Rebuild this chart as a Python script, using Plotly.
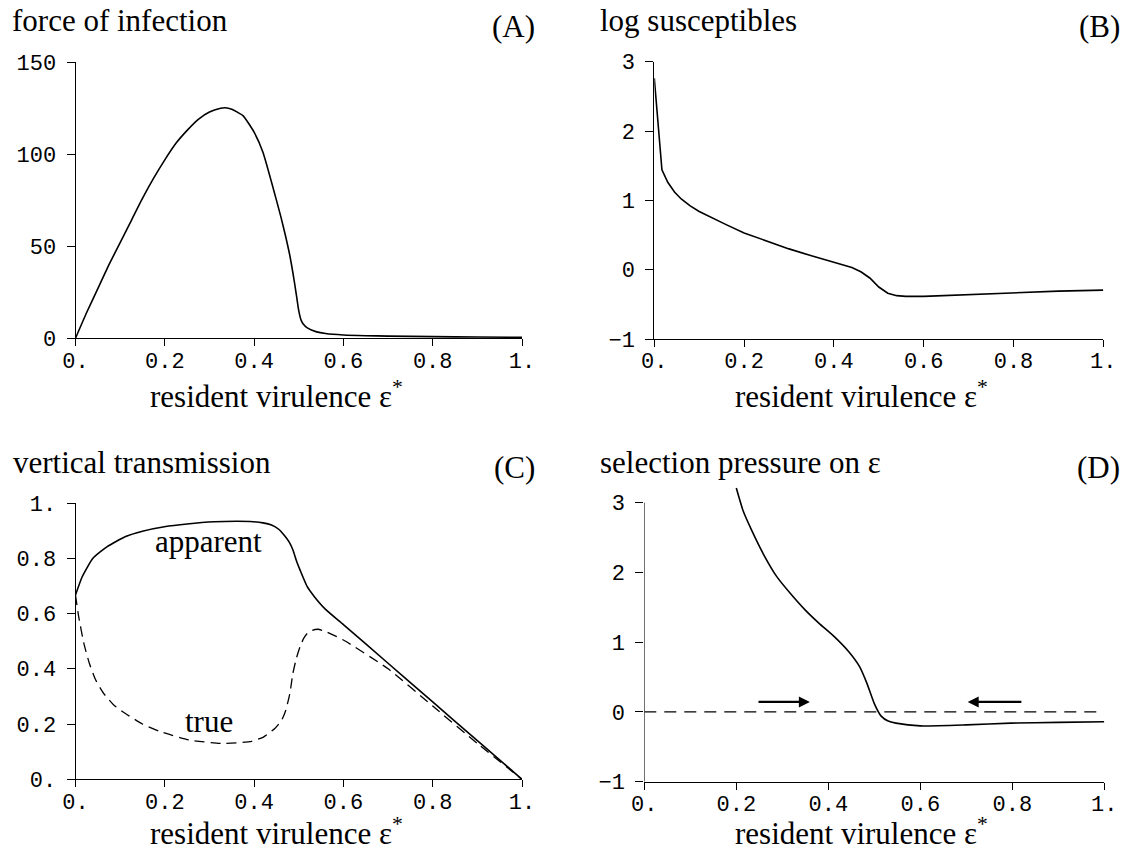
import plotly.graph_objects as go

W, H = 1126, 854

# ---------------- data ----------------
# (A) force of infection
a_x = [0, 0.025, 0.05, 0.075, 0.1, 0.125, 0.15, 0.175, 0.2, 0.225, 0.25, 0.275, 0.3, 0.325, 0.335,
       0.35, 0.375, 0.4, 0.42, 0.44, 0.46, 0.47, 0.48, 0.49, 0.495, 0.5, 0.505, 0.51, 0.52, 0.54,
       0.56, 0.6, 0.65, 0.7, 0.8, 0.9, 1.0]
a_y = [0, 14, 27, 40, 52, 64, 76, 87, 97, 106, 113, 119, 123, 125, 125.3,
       124.5, 121, 112, 101, 84, 66, 56, 45, 31, 23, 15, 10, 7.8, 5.5, 3.5,
       2.6, 1.8, 1.4, 1.2, 0.9, 0.7, 0.5]

# (B) log susceptibles
b_x = [0, 0.017, 0.03, 0.045, 0.06, 0.08, 0.1, 0.13, 0.16, 0.2, 0.25, 0.3, 0.35, 0.4, 0.44,
       0.46, 0.48, 0.5, 0.52, 0.54, 0.56, 0.6, 0.7, 0.8, 0.9, 1.0]
b_y = [2.76, 1.44, 1.26, 1.12, 1.02, 0.92, 0.84, 0.74, 0.65, 0.53, 0.41, 0.30, 0.20, 0.11, 0.03,
       -0.03, -0.12, -0.25, -0.34, -0.375, -0.385, -0.385, -0.36, -0.33, -0.31, -0.295]

# (C) vertical transmission
c_app_x = [0, 0.015, 0.039, 0.071, 0.111, 0.15, 0.199, 0.25, 0.311, 0.36, 0.391, 0.42, 0.439, 0.455,
           0.467, 0.478, 0.487, 0.495, 0.503, 0.519, 0.535, 0.56, 0.6, 0.7, 0.8, 0.9, 1.0]
c_app_y = [0.667, 0.733, 0.80, 0.842, 0.878, 0.898, 0.914, 0.924, 0.932, 0.934, 0.933, 0.928, 0.920, 0.905,
           0.884, 0.86, 0.83, 0.79, 0.757, 0.697, 0.661, 0.615, 0.560, 0.420, 0.280, 0.140, 0.0]
c_true_x = [0, 0.007, 0.019, 0.031, 0.045, 0.063, 0.085, 0.111, 0.15, 0.191, 0.255, 0.327, 0.39, 0.42,
            0.447, 0.462, 0.471, 0.48, 0.487, 0.495, 0.503, 0.511, 0.519, 0.53, 0.543, 0.56, 0.6, 0.7,
            0.8, 0.9, 1.0]
c_true_y = [0.667, 0.59, 0.49, 0.42, 0.36, 0.311, 0.27, 0.239, 0.2, 0.172, 0.142, 0.130, 0.136, 0.152,
            0.185, 0.215, 0.25, 0.31, 0.384, 0.44, 0.48, 0.51, 0.528, 0.539, 0.543, 0.535, 0.504, 0.40,
            0.265, 0.13, 0.0]

# (D) selection pressure
d_x = [0.2, 0.215, 0.233, 0.26, 0.288, 0.32, 0.35, 0.38, 0.413, 0.445, 0.468, 0.484, 0.5, 0.515,
       0.53, 0.547, 0.6, 0.7, 0.797, 0.9, 1.0]
d_y = [3.21, 2.88, 2.61, 2.25, 1.94, 1.68, 1.46, 1.27, 1.08, 0.86, 0.65, 0.41, 0.12, -0.06,
       -0.13, -0.16, -0.20, -0.185, -0.16, -0.15, -0.14]
d_zero_x = [0, 1]
d_zero_y = [0, 0]
arrow_y = 0.143
arrow_right = [0.245, 0.36]   # tail, head
arrow_left = [0.823, 0.703]   # tail, head

x_ticks = [0, 0.2, 0.4, 0.6, 0.8, 1.0]
x_ticktext = ["0.", "0.2", "0.4", "0.6", "0.8", "1."]
a_yticks = [0, 50, 100, 150]
a_yticktext = ["0", "50", "100", "150"]
b_yticks = [-1, 0, 1, 2, 3]
b_yticktext = ["\u22121", "0", "1", "2", "3"]
c_yticks = [0, 0.2, 0.4, 0.6, 0.8, 1.0]
c_yticktext = ["0.", "0.2", "0.4", "0.6", "0.8", "1."]
d_yticks = [-1, 0, 1, 2, 3]
d_yticktext = ["\u22121", "0", "1", "2", "3"]

titles = ["force of infection", "log susceptibles", "vertical transmission", "selection pressure on \u03b5"]
letters = ["(A)", "(B)", "(C)", "(D)"]
xlabel = "resident virulence \u03b5<sup>*</sup>"

# ---------------- figure ----------------
SERIF = "Liberation Serif, Times New Roman, serif"
MONO = "Liberation Mono, Courier New, monospace"
TF = 31
TICKF = 22
LW = 1.6

def px(x):
    return x / W

def py(y):
    return 1 - y / H

fig = go.Figure()
line = dict(color="black", width=LW)
sline = dict(color="black", width=LW, shape="spline", smoothing=0.5)
fig.add_trace(go.Scatter(x=a_x, y=a_y, mode="lines", line=sline, xaxis="x", yaxis="y"))
fig.add_trace(go.Scatter(x=b_x, y=b_y, mode="lines", line=line, xaxis="x2", yaxis="y2"))
fig.add_trace(go.Scatter(x=c_app_x, y=c_app_y, mode="lines", line=sline, xaxis="x3", yaxis="y3"))
fig.add_trace(go.Scatter(x=c_true_x, y=c_true_y, mode="lines",
                         line=dict(color="black", width=1.3, dash="10px,6px", shape="spline", smoothing=0.5),
                         xaxis="x3", yaxis="y3"))
fig.add_trace(go.Scatter(x=d_zero_x, y=d_zero_y, mode="lines",
                         line=dict(color="black", width=1.3, dash="12px,8px"), xaxis="x4", yaxis="y4"))
fig.add_trace(go.Scatter(x=d_x, y=d_y, mode="lines", line=sline, xaxis="x4", yaxis="y4"))

def xax(dom, anchor):
    return dict(domain=dom, anchor=anchor, range=[0, 1], showgrid=False, zeroline=False,
                showline=True, linecolor="black", linewidth=1, ticks="outside", ticklen=7,
                tickcolor="black", tickwidth=1, tickvals=x_ticks, ticktext=x_ticktext,
                tickfont=dict(family=MONO, size=TICKF, color="black"), ticklabelstandoff=-5,
                automargin=False)

def yax(dom, anchor, rng, tv, tt, showline=True):
    return dict(domain=dom, anchor=anchor, range=rng, showgrid=False, zeroline=False,
                showline=showline, linecolor="black", linewidth=1, ticks="outside", ticklen=8,
                tickcolor="black", tickwidth=1, tickvals=tv, ticktext=tt,
                tickfont=dict(family=MONO, size=TICKF, color="black"), ticklabelstandoff=6,
                automargin=False)

xA = [px(75.5), px(522)]
xB = [px(654.3), px(1103.3)]
xD = [px(644.3), px(1104.3)]
yA = [py(338.3), py(62.3)]
yB = [py(339), py(61.7)]
yC = [py(779.3), py(503)]
yD = [py(781.7), py(781.7 - 4.25 * 69.75)]

fig.update_layout(
    width=W, height=H, margin=dict(l=0, r=0, t=0, b=0, autoexpand=False),
    paper_bgcolor="white", plot_bgcolor="white", showlegend=False,
    xaxis=xax(xA, "y"), yaxis=yax(yA, "x", [0, 150], a_yticks, a_yticktext),
    xaxis2=xax(xB, "y2"), yaxis2=yax(yB, "x2", [-1, 3], b_yticks, b_yticktext),
    xaxis3=xax(xA, "y3"), yaxis3=yax(yC, "x3", [0, 1], c_yticks, c_yticktext),
    xaxis4=xax(xD, "y4"), yaxis4=yax(yD, "x4", [-1, 3.25], d_yticks, d_yticktext, showline=False),
)

# y axis line of (D) stops at 3
fig.add_shape(type="line", xref="x4", yref="y4", x0=0, x1=0, y0=-1, y1=3,
              line=dict(color="black", width=1))

ann = []
def txt(x, y, s, xanchor, size=TF, xref="paper", yref="paper"):
    ann.append(dict(x=x, y=y, xref=xref, yref=yref, text=s, showarrow=False, xanchor=xanchor,
                    yanchor="middle", font=dict(family=SERIF, size=size, color="black")))

# panel titles and letters
txt(px(10), py(20), titles[0], "left")
txt(px(598), py(20), titles[1], "left")
txt(px(11), py(462), titles[2], "left")
txt(px(598), py(462), titles[3], "left")
txt(px(537), py(26), letters[0], "right")
txt(px(1122), py(26), letters[1], "right")
txt(px(537), py(467), letters[2], "right")
txt(px(1122), py(467), letters[3], "right")
# x axis labels
txt(px(276), py(394), xlabel, "center")
txt(px(861), py(394), xlabel, "center")
txt(px(276), py(831), xlabel, "center")
txt(px(861), py(831), xlabel, "center")
# curve labels in (C)
txt(0.298, 0.862, "apparent", "center", xref="x3", yref="y3")
txt(0.298, 0.21, "true", "center", xref="x3", yref="y3")

# arrows in (D)
for tail, head in [arrow_right, arrow_left]:
    ann.append(dict(x=head, y=arrow_y, ax=tail, ay=arrow_y, xref="x4", yref="y4", axref="x4", ayref="y4",
                    text="", showarrow=True, arrowhead=2, arrowsize=1.0, arrowwidth=2.2,
                    arrowcolor="black"))

fig.update_layout(annotations=ann)
fig.write_html("out.html")
